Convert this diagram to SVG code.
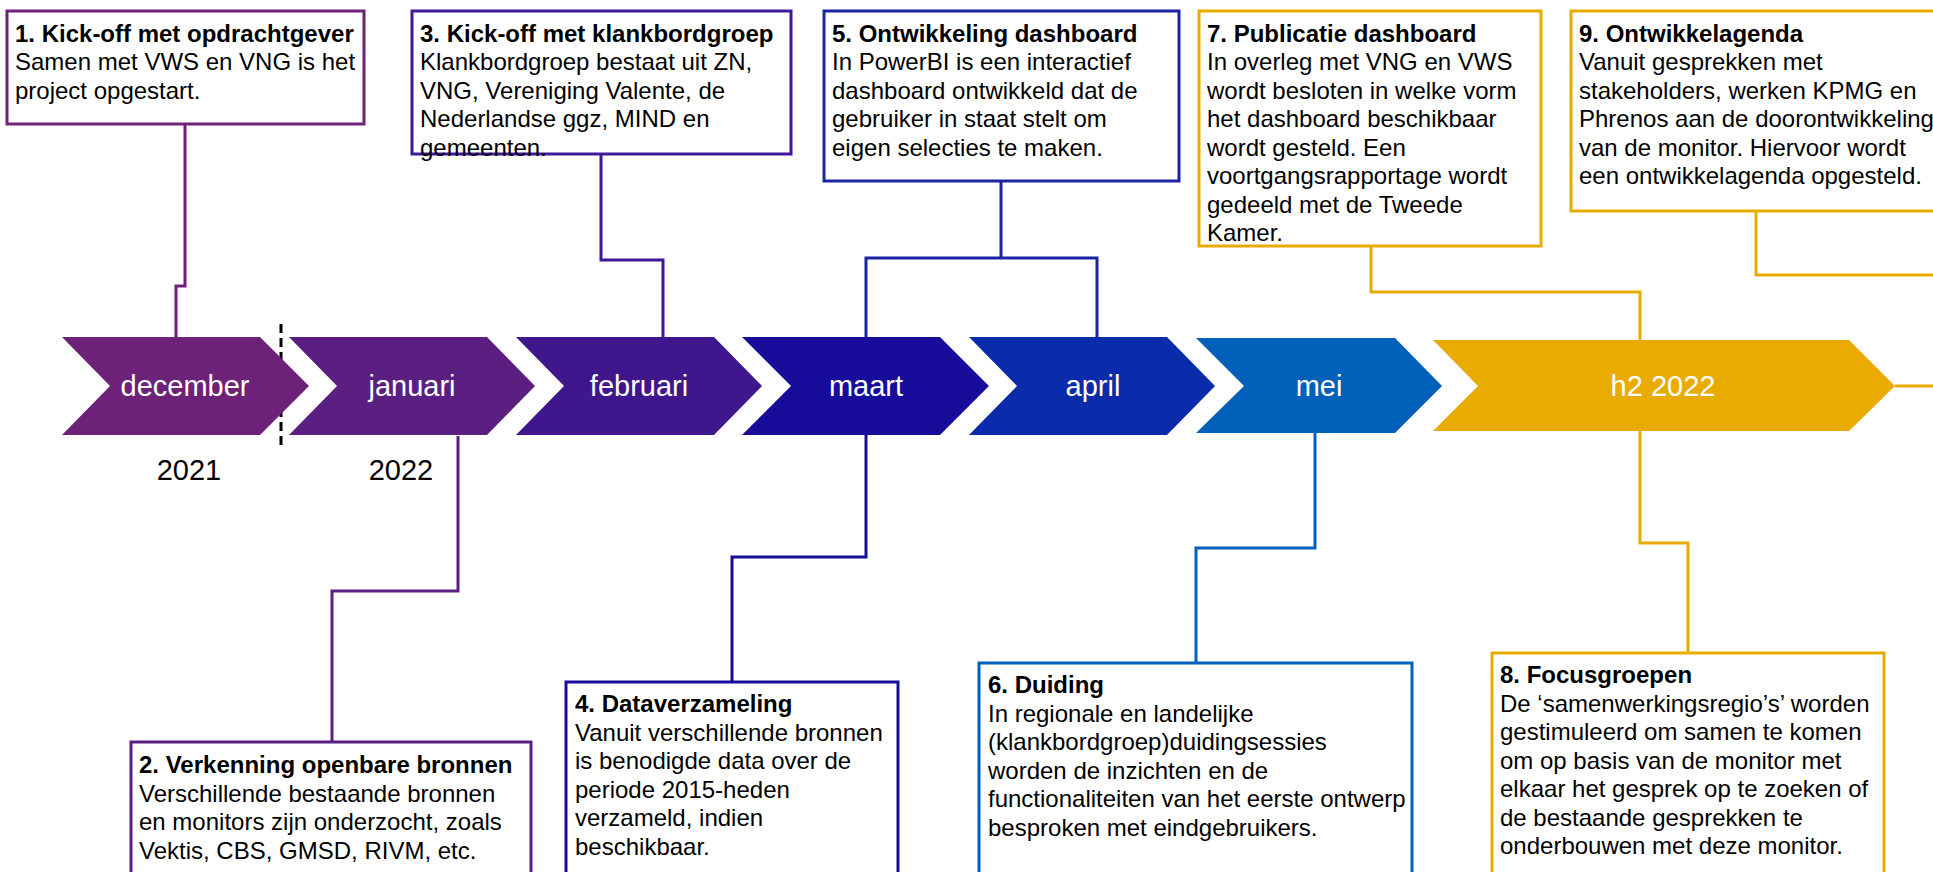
<svg xmlns="http://www.w3.org/2000/svg" width="1933" height="872" viewBox="0 0 1933 872">
<style>
.box{fill:#fff;stroke-width:3}
.t{font-family:"Liberation Sans",Arial,sans-serif;font-size:24px;fill:#000}
.b{font-weight:bold}
.lbl{font-family:"Liberation Sans",Arial,sans-serif;font-size:29px;fill:#fff;text-anchor:middle}
.yr{font-family:"Liberation Sans",Arial,sans-serif;font-size:29px;fill:#000;text-anchor:middle}
.c{fill:none;stroke-width:3}
</style>
<rect width="1933" height="872" fill="#fff"/>
<g id="connectors">
<polyline class="c" stroke="#6E2178" points="185,124 185,286 176,286 176,337"/>
<polyline class="c" stroke="#5B1F82" points="458,436 458,591 332,591 332,742"/>
<polyline class="c" stroke="#40189A" points="601,154 601,260 663,260 663,337"/>
<polyline class="c" stroke="#170D9A" points="866,435 866,557 732,557 732,682"/>
<polyline class="c" stroke="#1A24A0" points="1001,181 1001,258"/>
<polyline class="c" stroke="#1A24A0" points="866,337 866,258 1097,258 1097,337"/>
<polyline class="c" stroke="#0060BA" points="1315,433 1315,548 1196,548 1196,663"/>
<polyline class="c" stroke="#EAAB00" points="1371,246 1371,292 1640,292 1640,340"/>
<polyline class="c" stroke="#EAAB00" points="1640,431 1640,543 1688,543 1688,653"/>
<polyline class="c" stroke="#EAAB00" points="1756,211 1756,275 1940,275"/>
<polyline class="c" stroke="#EAAB00" points="1895,386 1940,386"/>
<line x1="281" y1="324" x2="281" y2="447" stroke="#000" stroke-width="3" stroke-dasharray="9,5"/>
</g>
<g id="timeline">
<g id="m-december"><polygon fill="#6E2178" points="62,337 260,337 309,386 260,435 62,435 110,386"/><text class="lbl" x="185" y="396">december</text></g>
<g id="m-januari"><polygon fill="#5B1F82" points="289,337 487,337 535,386 487,435 289,435 337,386"/><text class="lbl" x="412" y="396">januari</text></g>
<g id="m-februari"><polygon fill="#3F168C" points="516,337 714,337 762,386 714,435 516,435 564,386"/><text class="lbl" x="639" y="396">februari</text></g>
<g id="m-maart"><polygon fill="#170D9A" points="742,337 940,337 989,386 940,435 742,435 791,386"/><text class="lbl" x="866" y="396">maart</text></g>
<g id="m-april"><polygon fill="#0A2CAB" points="969,337 1167,337 1215,386 1167,435 969,435 1017,386"/><text class="lbl" x="1093" y="396">april</text></g>
<g id="m-mei"><polygon fill="#0060BA" points="1196,338 1395,338 1442,386 1395,433 1196,433 1244,386"/><text class="lbl" x="1319" y="396">mei</text></g>
<g id="m-h2"><polygon fill="#EAAB00" points="1433,340 1849,340 1895,386 1849,431 1433,431 1478,386"/><text class="lbl" x="1663" y="396">h2 2022</text></g>
<text class="yr" x="189" y="480">2021</text>
<text class="yr" x="401" y="480">2022</text>
</g>
<g id="n1"><rect class="box" stroke="#6E2178" x="7" y="11" width="357" height="113"/>
<text class="t" x="15"><tspan class="b" x="15" y="42">1. Kick-off met opdrachtgever</tspan><tspan x="15" y="70">Samen met VWS en VNG is het</tspan><tspan x="15" y="99">project opgestart.</tspan></text></g>
<g id="n2"><rect class="box" stroke="#5B1F82" x="131" y="742" width="400" height="140"/>
<text class="t"><tspan class="b" x="139" y="773">2. Verkenning openbare bronnen</tspan><tspan x="139" y="802">Verschillende bestaande bronnen</tspan><tspan x="139" y="830">en monitors zijn onderzocht, zoals</tspan><tspan x="139" y="859">Vektis, CBS, GMSD, RIVM, etc.</tspan></text></g>
<g id="n3"><rect class="box" stroke="#40189A" x="412" y="11" width="379" height="143"/>
<text class="t"><tspan class="b" x="420" y="42">3. Kick-off met klankbordgroep</tspan><tspan x="420" y="70">Klankbordgroep bestaat uit ZN,</tspan><tspan x="420" y="99">VNG, Vereniging Valente, de</tspan><tspan x="420" y="127">Nederlandse ggz, MIND en</tspan><tspan x="420" y="156">gemeenten.</tspan></text></g>
<g id="n4"><rect class="box" stroke="#170D9A" x="566" y="682" width="332" height="200"/>
<text class="t"><tspan class="b" x="575" y="712">4. Dataverzameling</tspan><tspan x="575" y="741">Vanuit verschillende bronnen</tspan><tspan x="575" y="769">is benodigde data over de</tspan><tspan x="575" y="798">periode 2015-heden</tspan><tspan x="575" y="826">verzameld, indien</tspan><tspan x="575" y="855">beschikbaar.</tspan></text></g>
<g id="n5"><rect class="box" stroke="#1A24A0" x="824" y="11" width="355" height="170"/>
<text class="t"><tspan class="b" x="832" y="42">5. Ontwikkeling dashboard</tspan><tspan x="832" y="70">In PowerBI is een interactief</tspan><tspan x="832" y="99">dashboard ontwikkeld dat de</tspan><tspan x="832" y="127">gebruiker in staat stelt om</tspan><tspan x="832" y="156">eigen selecties te maken.</tspan></text></g>
<g id="n6"><rect class="box" stroke="#0060BA" x="979" y="663" width="433" height="220"/>
<text class="t"><tspan class="b" x="988" y="693">6. Duiding</tspan><tspan x="988" y="722">In regionale en landelijke</tspan><tspan x="988" y="750">(klankbordgroep)duidingsessies</tspan><tspan x="988" y="779">worden de inzichten en de</tspan><tspan x="988" y="807">functionaliteiten van het eerste ontwerp</tspan><tspan x="988" y="836">besproken met eindgebruikers.</tspan></text></g>
<g id="n7"><rect class="box" stroke="#EAAB00" x="1199" y="11" width="342" height="235"/>
<text class="t"><tspan class="b" x="1207" y="42">7. Publicatie dashboard</tspan><tspan x="1207" y="70">In overleg met VNG en VWS</tspan><tspan x="1207" y="99">wordt besloten in welke vorm</tspan><tspan x="1207" y="127">het dashboard beschikbaar</tspan><tspan x="1207" y="156">wordt gesteld. Een</tspan><tspan x="1207" y="184">voortgangsrapportage wordt</tspan><tspan x="1207" y="213">gedeeld met de Tweede</tspan><tspan x="1207" y="241">Kamer.</tspan></text></g>
<g id="n8"><rect class="box" stroke="#EAAB00" x="1492" y="653" width="392" height="230"/>
<text class="t"><tspan class="b" x="1500" y="683">8. Focusgroepen</tspan><tspan x="1500" y="712">De ‘samenwerkingsregio’s’ worden</tspan><tspan x="1500" y="740">gestimuleerd om samen te komen</tspan><tspan x="1500" y="769">om op basis van de monitor met</tspan><tspan x="1500" y="797">elkaar het gesprek op te zoeken of</tspan><tspan x="1500" y="826">de bestaande gesprekken te</tspan><tspan x="1500" y="854">onderbouwen met deze monitor.</tspan></text></g>
<g id="n9"><rect class="box" stroke="#EAAB00" x="1571" y="11" width="380" height="200"/>
<text class="t"><tspan class="b" x="1579" y="42">9. Ontwikkelagenda</tspan><tspan x="1579" y="70">Vanuit gesprekken met</tspan><tspan x="1579" y="99">stakeholders, werken KPMG en</tspan><tspan x="1579" y="127">Phrenos aan de doorontwikkeling</tspan><tspan x="1579" y="156">van de monitor. Hiervoor wordt</tspan><tspan x="1579" y="184">een ontwikkelagenda opgesteld.</tspan></text></g>
</svg>
